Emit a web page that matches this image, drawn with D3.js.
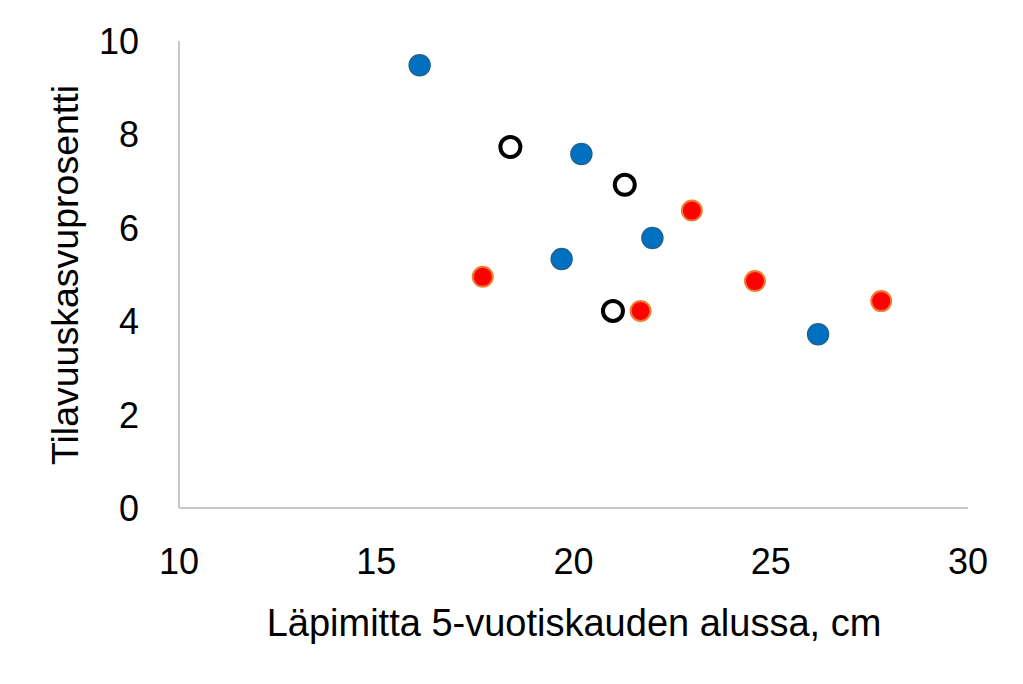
<!DOCTYPE html>
<html>
<head>
<meta charset="utf-8">
<script src="https://cdn.jsdelivr.net/npm/d3@7"></script>
<style>
  body { margin: 0; background: #fff; }
  text { font-family: "Liberation Sans", Arial, sans-serif; fill: #000; }
</style>
</head>
<body>
<script>
  var width = 1023, height = 684;
  var margin = {top: 41, right: 55, bottom: 176, left: 179};

  // blue series
  var blueX = [16.1, 20.2, 22.0, 19.7, 26.2];
  var blueY = [9.48, 7.58, 5.78, 5.33, 3.72];
  // red series
  var redX = [17.7, 23.0, 24.6, 27.8, 21.7];
  var redY = [4.95, 6.37, 4.86, 4.43, 4.22];
  // open (black ring) series
  var ringX = [18.4, 21.3, 21.0];
  var ringY = [7.73, 6.92, 4.22];

  var xTicks = [10, 15, 20, 25, 30];
  var yTicks = [0, 2, 4, 6, 8, 10];

  function zip(xs, ys) { return xs.map(function(v, i) { return {x: v, y: ys[i]}; }); }

  var svg = d3.select("body").append("svg")
      .attr("width", width)
      .attr("height", height);

  var x = d3.scaleLinear().domain([10, 30]).range([margin.left, width - margin.right]);
  var y = d3.scaleLinear().domain([0, 10]).range([height - margin.bottom, margin.top]);

  // axes lines
  svg.append("line")
      .attr("x1", x(10)).attr("x2", x(30))
      .attr("y1", y(0)).attr("y2", y(0))
      .attr("stroke", "#c8c8c8").attr("stroke-width", 2);
  svg.append("line")
      .attr("x1", x(10)).attr("x2", x(10))
      .attr("y1", y(0)).attr("y2", y(10))
      .attr("stroke", "#c8c8c8").attr("stroke-width", 2);

  // tick labels
  svg.selectAll(".xt").data(xTicks).enter().append("text")
      .attr("x", function(d) { return x(d); })
      .attr("y", 574)
      .attr("text-anchor", "middle")
      .style("font-size", "36px")
      .text(function(d) { return d; });

  svg.selectAll(".yt").data(yTicks).enter().append("text")
      .attr("x", 139)
      .attr("y", function(d) { return y(d) + 13; })
      .attr("text-anchor", "end")
      .style("font-size", "36px")
      .text(function(d) { return d; });

  // axis titles
  svg.append("text")
      .attr("x", 574)
      .attr("y", 636)
      .attr("text-anchor", "middle")
      .style("font-size", "38px")
      .text("Läpimitta 5-vuotiskauden alussa, cm");

  svg.append("text")
      .attr("transform", "translate(78,275) rotate(-90)")
      .attr("text-anchor", "middle")
      .style("font-size", "37.5px")
      .text("Tilavuuskasvuprosentti");

  // points
  svg.selectAll(".blue").data(zip(blueX, blueY)).enter().append("circle")
      .attr("cx", function(d) { return x(d.x); })
      .attr("cy", function(d) { return y(d.y); })
      .attr("r", 10.5)
      .attr("fill", "#0070C0")
      .attr("stroke", "#1F6391")
      .attr("stroke-width", 1.5);

  svg.selectAll(".red").data(zip(redX, redY)).enter().append("circle")
      .attr("cx", function(d) { return x(d.x); })
      .attr("cy", function(d) { return y(d.y); })
      .attr("r", 10)
      .attr("fill", "#FF0000")
      .attr("stroke", "#ED7D31")
      .attr("stroke-width", 2);

  svg.selectAll(".ring").data(zip(ringX, ringY)).enter().append("circle")
      .attr("cx", function(d) { return x(d.x); })
      .attr("cy", function(d) { return y(d.y); })
      .attr("r", 10)
      .attr("fill", "#fff")
      .attr("stroke", "#000")
      .attr("stroke-width", 4);
</script>
</body>
</html>
